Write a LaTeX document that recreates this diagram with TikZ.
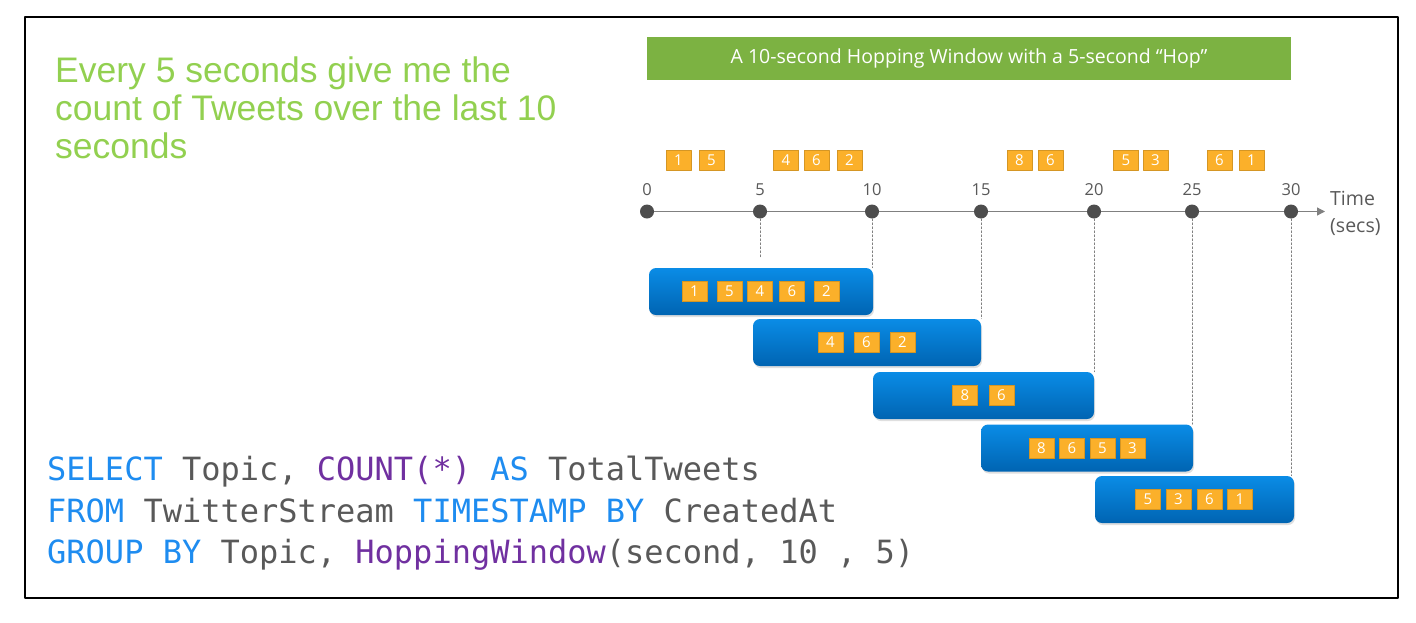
\documentclass[tikz,border=0pt]{standalone}
\usepackage{fontspec}
\setmainfont{Open Sans}
\newfontfamily\arialfont{Liberation Sans}
\newfontfamily\codefont{DejaVu Sans Mono}
\usetikzlibrary{arrows.meta,shadows,backgrounds}

\definecolor{bannergreen}{RGB}{124,178,66}
\definecolor{textgreen}{RGB}{146,208,80}
\definecolor{tweetorange}{RGB}{251,176,42}
\definecolor{wintop}{RGB}{10,140,230}
\definecolor{winbot}{RGB}{0,100,178}
\definecolor{axisgray}{RGB}{128,128,128}
\definecolor{dotgray}{RGB}{77,77,77}
\definecolor{labelgray}{RGB}{89,89,89}
\definecolor{kwblue}{RGB}{30,140,240}
\definecolor{fnpurple}{RGB}{112,48,160}

\begin{document}
\begin{tikzpicture}[x=1pt, y=-1pt, line cap=round, line join=round,
    tweet/.style={fill=tweetorange, draw=tweetorange!85!black, line width=0.3pt,
      minimum width=25pt, minimum height=20pt, inner sep=0pt,
      text=white, font=\fontsize{15}{15}\selectfont},
    window/.style={rounded corners=7pt, top color=wintop, bottom color=winbot,
      minimum height=47pt, inner sep=0pt,
      drop shadow={opacity=0.25, shadow xshift=1pt, shadow yshift=-2pt}},
    dot/.style={circle, fill=dotgray, minimum size=14pt, inner sep=0pt},
    tick/.style={text=labelgray, inner sep=0pt, label distance=8pt,
      font=\fontsize{16.5}{16.5}\selectfont},
    axis/.style={axisgray, line width=1.2pt, -{Triangle[length=8pt,width=8pt]}},
    guide/.style={axisgray, line width=0.7pt, dash pattern=on 2pt off 2pt},
    code/.style={anchor=base west, inner sep=0pt, text=labelgray,
      font=\codefont\fontsize{32}{42}\selectfont}]
  \useasboundingbox (0,0) rectangle (1416,622);

  % cornice
  \draw[line width=1.3pt] (25,17) rectangle (1398,598);

  % titolo
  \node[fill=bannergreen, minimum width=644pt, minimum height=43pt, inner sep=0pt,
    text=white, font=\fontsize{19.5}{19.5}\selectfont] (banner) at (969,58.5)
    {A 10-second Hopping Window with a 5-second “Hop”};

  % domanda
  \node[anchor=north west, inner sep=0pt, align=left, text=textgreen,
    font=\arialfont\fontsize{35.5}{38}\selectfont] (question) at (55,57)
    {Every 5 seconds give me the\\count of Tweets over the last 10\\seconds};

  % asse dei tempi
  \foreach \x/\lab in {647/0, 760/5, 872/10, 981/15, 1094/20, 1192/25, 1291/30}
    \node[dot, label={[tick]above:\lab}] (t\lab) at (\x,211.5) {};
  \coordinate (tend) at (1325,211.5);
  \begin{scope}[on background layer]
    \draw[axis] (t0.center) -- (tend);
  \end{scope}
  \node[anchor=west, align=left, inner sep=0pt, text=labelgray,
    font=\fontsize{19.5}{27}\selectfont] (time) at (1330,213) {Time\\(secs)};

  % tweet in arrivo
  \foreach \x/\n [count=\i] in {678.5/1, 711.5/5, 786/4, 816.5/6, 849.5/2,
      1019.5/8, 1050.5/6, 1126/5, 1155.5/3, 1219.5/6, 1251.5/1}
    \node[tweet] (in\i) at (\x,160) {\n};

  % finestre
  \node[window, minimum width=224pt] (w1) at (761,291.5) {};
  \node[window, minimum width=228pt] (w2) at (867,342.5) {};
  \node[window, minimum width=221pt] (w3) at (983.5,395.5) {};
  \node[window, minimum width=212pt] (w4) at (1087,448) {};
  \node[window, minimum width=199pt] (w5) at (1194.5,499.5) {};

  \foreach \x/\n [count=\i] in {694.5/1, 729.5/5, 760/4, 792/6, 826.5/2}
    \node[tweet] (a\i) at (\x,291.5) {\n};
  \foreach \x/\n [count=\i] in {830.5/4, 866.5/6, 902.5/2}
    \node[tweet] (b\i) at (\x,342) {\n};
  \foreach \x/\n [count=\i] in {965/8, 1001.5/6}
    \node[tweet] (c\i) at (\x,395) {\n};
  \foreach \x/\n [count=\i] in {1041.5/8, 1072/6, 1102.5/5, 1132.5/3}
    \node[tweet] (d\i) at (\x,448) {\n};
  \foreach \x/\n [count=\i] in {1148/5, 1178.5/3, 1209.5/6, 1240/1}
    \node[tweet] (e\i) at (\x,499) {\n};

  % linee tratteggiate
  \coordinate (g5) at (760,257);
  \draw[guide] (t5) -- (g5);
  \draw[guide] (t10) -- (t10 |- w1.north);
  \draw[guide] (t15) -- (t15 |- w2.north);
  \draw[guide] (t20) -- (t20 |- w3.north);
  \draw[guide] (t25) -- (t25 |- w4.north);
  \draw[guide] (t30) -- (t30 |- w5.north);

  % query
  \node[code] (sql1) at (47,480) {\textcolor{kwblue}{SELECT} Topic,
    \textcolor{fnpurple}{COUNT(*)} \textcolor{kwblue}{AS} TotalTweets};
  \node[code] (sql2) at (47,522) {\textcolor{kwblue}{FROM} TwitterStream
    \textcolor{kwblue}{TIMESTAMP BY} CreatedAt};
  \node[code] (sql3) at (47,563) {\textcolor{kwblue}{GROUP BY} Topic,
    \textcolor{fnpurple}{HoppingWindow}(second, 10 , 5)};
\end{tikzpicture}
\end{document}
